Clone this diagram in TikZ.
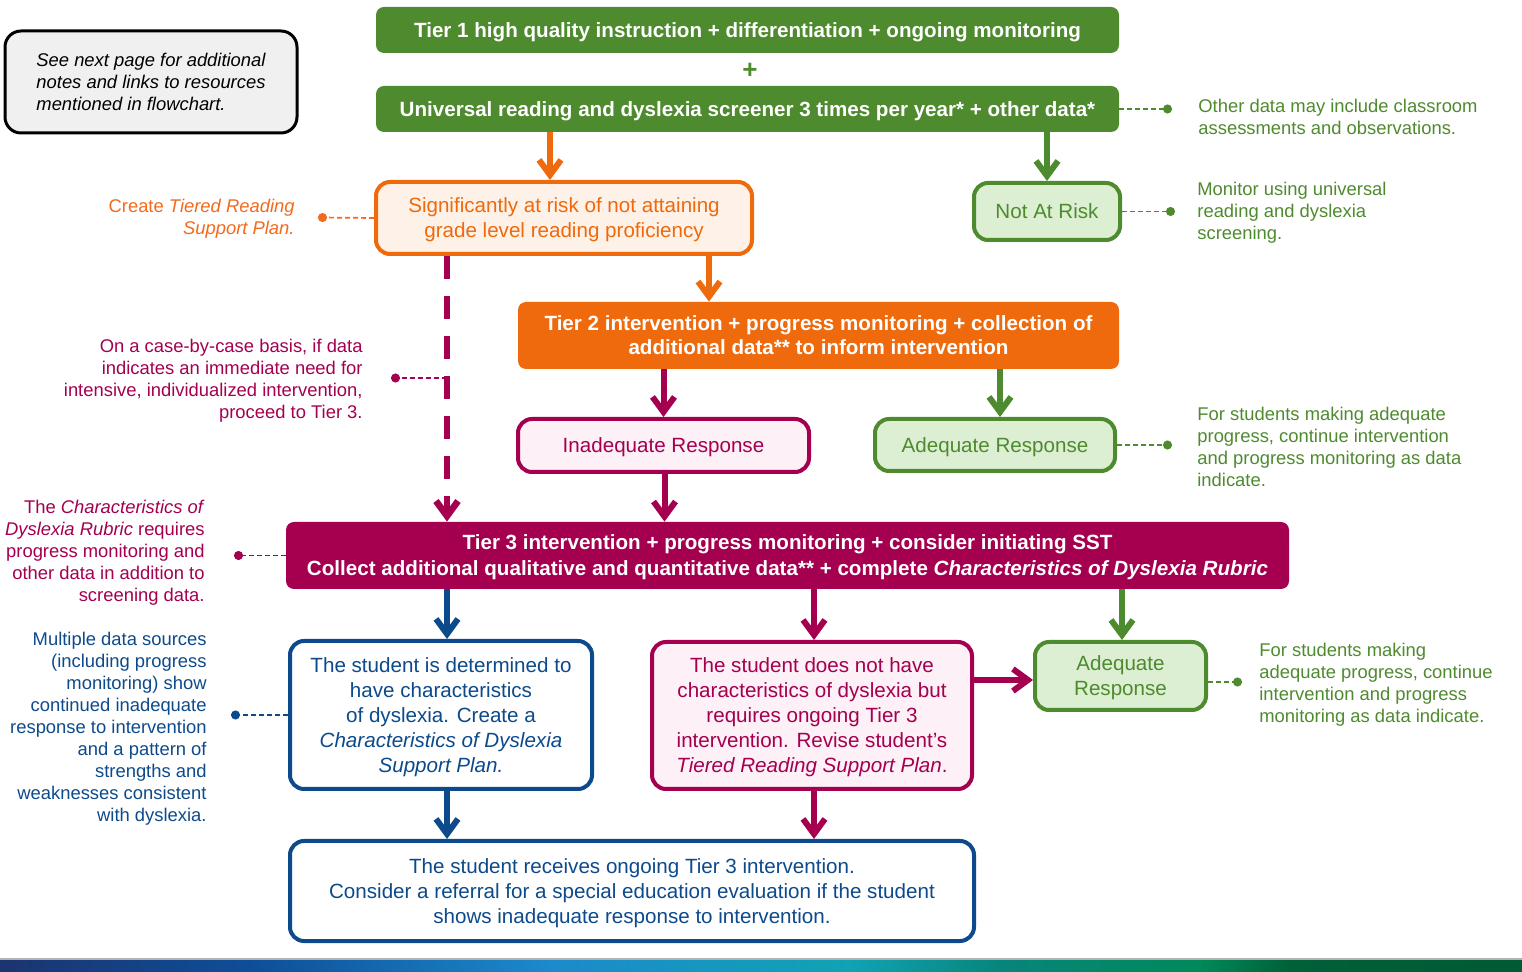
\documentclass[tikz,border=0pt]{standalone}
\usepackage{fontspec}
\setmainfont{Liberation Sans}
\usetikzlibrary{arrows.meta}
\definecolor{cgreen}{HTML}{4E8A2E}
\definecolor{lgreen}{HTML}{DCEFD2}
\definecolor{corange}{HTML}{EE6A0C}
\definecolor{lorange}{HTML}{FEF1E8}
\definecolor{torange}{HTML}{F26A1B}
\definecolor{cmag}{HTML}{A4004F}
\definecolor{lmag}{HTML}{FDF0F6}
\definecolor{cblue}{HTML}{0D4A8C}
\definecolor{notegray}{HTML}{F0F0F0}
\definecolor{bandA}{HTML}{1C3470}
\definecolor{bandB}{HTML}{0E4E98}
\definecolor{bandC}{HTML}{1C8ACB}
\definecolor{bandD}{HTML}{0FA3B5}
\definecolor{bandE}{HTML}{07857A}
\definecolor{bandF}{HTML}{00895A}
\definecolor{bandG}{HTML}{006038}
\definecolor{bandH}{HTML}{005A34}
\pgfdeclarehorizontalshading{band}{100bp}{color(0bp)=(bandA); color(25bp)=(bandA); color(33.2bp)=(bandB); color(43.1bp)=(bandC); color(52.9bp)=(bandD); color(57.9bp)=(bandE); color(64.4bp)=(bandF); color(67.4bp)=(bandG); color(75bp)=(bandH); color(100bp)=(bandH)}
\tikzset{
  bar/.style={rounded corners=4pt, text=white, align=center, inner sep=0pt, text depth=0pt,
    font=\fontsize{10.3}{12.5}\selectfont\bfseries},
  box/.style={draw, line width=2pt, rounded corners=7pt, align=center, inner sep=0pt, text depth=0pt,
    font=\fontsize{10.3}{12.5}\selectfont},
  ann/.style={inner sep=0pt, font=\fontsize{9.2}{11}\selectfont},
  arr/.style={line width=3pt, -{Straight Barb[length=7.5pt,width=11pt]}},
  dline/.style={line width=0.85pt, dash pattern=on 2.5pt off 1.5pt, -{Circle[length=4.5pt]}}
}
\begin{document}
\begin{tikzpicture}[x=0.5pt,y=-0.5pt]
\useasboundingbox (0,0) rectangle (1522,972);

% note box
\node[draw=black, line width=1.5pt, fill=notegray, rounded corners=8pt,
  minimum width=146pt, minimum height=51pt, inner sep=0pt, align=left, text depth=0pt,
  font=\fontsize{9.2}{11}\selectfont\itshape] (note) at (151,82)
  {See next page for additional\\notes and links to resources\\mentioned in flowchart.};

% bars
\node[bar, fill=cgreen, minimum width=371.5pt, minimum height=23pt] (tier1) at (747.5,30)
  {Tier 1 high quality instruction + differentiation + ongoing monitoring};
\node[text=cgreen, font=\fontsize{13}{13}\selectfont\bfseries, inner sep=0pt] (plus) at (750,71) {+};
\node[bar, fill=cgreen, minimum width=371.5pt, minimum height=23pt] (univ) at (747.5,109)
  {Universal reading and dyslexia screener 3 times per year* + other data*};

\node[box, draw=corange, fill=lorange, text=corange, minimum width=188pt, minimum height=36pt] (sig) at (564,218)
  {Significantly at risk of not attaining\\grade level reading proficiency};
\node[box, draw=cgreen, fill=lgreen, text=cgreen, minimum width=73pt, minimum height=28.5pt] (notrisk) at (1047,211.5)
  {Not At Risk};

\node[bar, fill=corange, minimum width=300.5pt, minimum height=33.5pt, font=\fontsize{10.3}{12}\selectfont\bfseries] (tier2) at (818.5,335.5)
  {Tier 2 intervention + progress monitoring + collection of\\additional data** to inform intervention};

\node[box, draw=cmag, fill=lmag, text=cmag, minimum width=145.5pt, minimum height=26.5pt] (inad) at (663.5,445.5)
  {Inadequate Response};
\node[box, draw=cgreen, fill=lgreen, text=cgreen, minimum width=120pt, minimum height=26pt] (adeq1) at (995,445)
  {Adequate Response};

\node[bar, fill=cmag, minimum width=501.5pt, minimum height=33.5pt, font=\fontsize{10.3}{13}\selectfont\bfseries] (tier3) at (787.5,555.5)
  {Tier 3 intervention + progress monitoring + consider initiating SST\\Collect additional qualitative and quantitative data** + complete \textit{Characteristics of Dyslexia Rubric}};

\node[box, draw=cblue, fill=white, text=cblue, minimum width=151pt, minimum height=74pt] (det) at (441,715)
  {The student is determined to\\have characteristics\\of dyslexia. Create a\\\textit{Characteristics of Dyslexia}\\\textit{Support Plan.}};
\node[box, draw=cmag, fill=lmag, text=cmag, minimum width=160pt, minimum height=73.5pt] (notdys) at (812,715.5)
  {The student does not have\\characteristics of dyslexia but\\requires ongoing Tier 3\\intervention. Revise student’s\\\textit{Tiered Reading Support Plan}.};
\node[box, draw=cgreen, fill=lgreen, text=cgreen, minimum width=85.5pt, minimum height=34pt] (adeq2) at (1120.5,676)
  {Adequate\\Response};

\node[box, draw=cblue, fill=white, text=cblue, minimum width=342pt, minimum height=50pt] (bottom) at (632,891)
  {The student receives ongoing Tier 3 intervention.\\Consider a referral for a special education evaluation if the student\\shows inadequate response to intervention.};

% arrows
\draw[arr, corange] ([xshift=-7pt]sig.north |- univ.south) -- ([xshift=-7pt]sig.north);
\draw[arr, cgreen] (notrisk.north |- univ.south) -- (notrisk.north);
\draw[arr, corange] ([xshift=72.5pt]sig.south) -- ([xshift=72.5pt]sig.south |- tier2.north);
\coordinate (vtop) at ([xshift=-58.5pt]sig.south);
\draw[line width=3.3pt, cmag, dash pattern=on 11.5pt off 8.5pt, -{Straight Barb[length=7.5pt,width=11pt]}] (vtop) -- (vtop |- tier3.north);
\draw[arr, cmag] (inad.north |- tier2.south) -- (inad.north);
\draw[arr, cgreen] ([xshift=2.5pt]adeq1.north |- tier2.south) -- ([xshift=2.5pt]adeq1.north);
\draw[arr, cmag] ([xshift=0.5pt]inad.south) -- ([xshift=0.5pt]inad.south |- tier3.north);
\draw[arr, cblue] ([xshift=3pt]det.north |- tier3.south) -- ([xshift=3pt]det.north);
\draw[arr, cmag] ([xshift=1pt]notdys.north |- tier3.south) -- ([xshift=1pt]notdys.north);
\draw[arr, cgreen] ([xshift=0.75pt]adeq2.north |- tier3.south) -- ([xshift=0.75pt]adeq2.north);
\draw[arr, cmag] ([yshift=-2pt]adeq2.west -| notdys.east) -- ([yshift=-2pt]adeq2.west);
\draw[arr, cblue] ([xshift=3pt]det.south) -- ([xshift=3pt]det.south |- bottom.north);
\draw[arr, cmag] ([xshift=1pt]notdys.south) -- ([xshift=1pt]notdys.south |- bottom.north);

% annotations right
\coordinate (d1) at (1172,109);
\node[ann, text=cgreen, anchor=west, align=left] (a1) at (1198,117)
  {Other data may include classroom\\assessments and observations.};
\draw[dline, cgreen] (univ.east) -- (d1);

\coordinate (d2) at (1175,211.5);
\node[ann, text=cgreen, anchor=west, align=left] (a2) at (1197,213)
  {Monitor using universal\\reading and dyslexia\\screening.};
\draw[dline, cgreen] (notrisk.east) -- (d2);

\coordinate (d3) at (1172,445);
\node[ann, text=cgreen, anchor=west, align=left] (a3) at (1197,447)
  {For students making adequate\\progress, continue intervention\\and progress monitoring as data\\indicate.};
\draw[dline, cgreen] (adeq1.east) -- (d3);

\coordinate (d4) at (1242,682);
\node[ann, text=cgreen, anchor=west, align=left] (a4) at (1259,684.5)
  {For students making\\adequate progress, continue\\intervention and progress\\monitoring as data indicate.};
\draw[dline, cgreen] ([yshift=-3pt]adeq2.east) -- (d4);

% annotations left
\coordinate (d5) at (318,217.5);
\node[ann, text=torange, anchor=east, align=right] (a5) at (295,218.5)
  {Create \textit{Tiered Reading}\\\textit{Support Plan.}};
\draw[dline, torange] (sig.west) -- (d5);

\coordinate (d6) at (391,378);
\node[ann, text=cmag, anchor=east, align=right] (a6) at (363,381)
  {On a case-by-case basis, if data\\indicates an immediate need for\\intensive, individualized intervention,\\proceed to Tier 3.};
\draw[dline, cmag] (d6 -| vtop) -- (d6);

\coordinate (d7) at (234,555.5);
\node[ann, text=cmag, anchor=east, align=right] (a7) at (205,553)
  {The \textit{Characteristics of}\\\textit{Dyslexia Rubric} requires\\progress monitoring and\\other data in addition to\\screening data.};
\draw[dline, cmag] (tier3.west) -- (d7);

\coordinate (d8) at (231,715);
\node[ann, text=cblue, anchor=east, align=right] (a8) at (207,729)
  {Multiple data sources\\(including progress\\monitoring) show\\continued inadequate\\response to intervention\\and a pattern of\\strengths and\\weaknesses consistent\\with dyslexia.};
\draw[dline, cblue] (det.west) -- (d8);

% bottom band
\draw[black!30, line width=0.8pt] (0,959) -- (1522,959);
\fill[shading=band] (0,960) rectangle (1522,972);
\end{tikzpicture}
\end{document}
